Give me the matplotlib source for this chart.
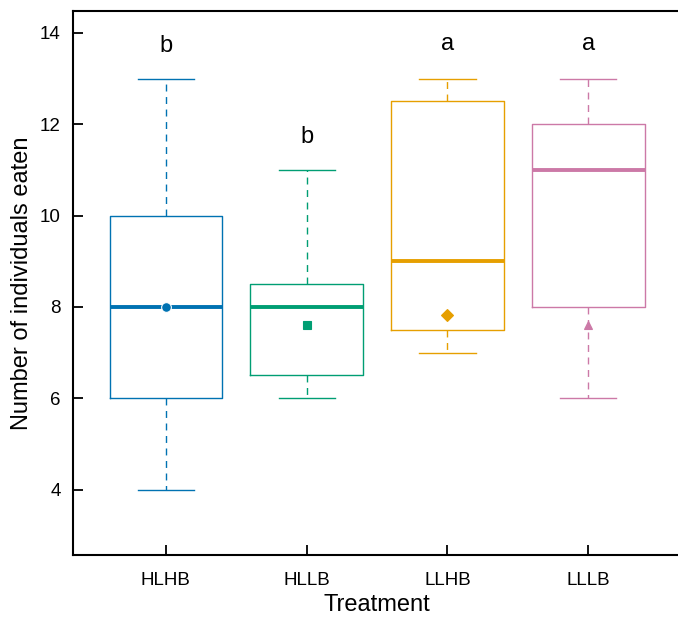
import matplotlib
matplotlib.use("Agg")
import matplotlib.pyplot as plt

plt.rcParams['font.family'] = ['Liberation Sans', 'DejaVu Sans']

treatments = ["HLHB", "HLLB", "LLHB", "LLLB"]
whisker_low = [4, 6, 7, 6]
q1 = [6, 6.5, 7.5, 8]
medians = [8, 8, 9, 11]
q3 = [10, 8.5, 12.5, 12]
whisker_high = [13, 11, 13, 13]
means = [8.0, 7.6, 7.83, 7.6]
letters = ["b", "b", "a", "a"]
colors = ["#0072B2", "#009E73", "#E69F00", "#CC79A7"]
markers = ["o", "s", "D", "^"]

fig = plt.figure(figsize=(6.78, 6.17), dpi=100)
ax = fig.add_axes([0.1077, 0.1005, 0.897, 0.8817])

for i, t in enumerate(treatments):
    stats = [dict(med=medians[i], q1=q1[i], q3=q3[i], whislo=whisker_low[i],
                  whishi=whisker_high[i], mean=means[i], fliers=[], label=t)]
    c = colors[i]
    ax.bxp(stats, positions=[i + 1], widths=0.8, showmeans=False, showfliers=False,
           boxprops=dict(color=c, linewidth=1.0),
           medianprops=dict(color=c, linewidth=2.8, solid_capstyle='butt'),
           whiskerprops=dict(color=c, linewidth=1.0, linestyle=(0, (5, 4))),
           capprops=dict(color=c, linewidth=1.0),
           capwidths=0.4)
    ax.plot([i + 1], [means[i]], marker=markers[i], color=c,
            markersize=7 if markers[i] == 'o' else 6,
            markeredgecolor='white' if markers[i] == 'o' else c,
            markeredgewidth=0.8, zorder=5)

letter_y = [13.72, 11.72, 13.75, 13.75]
for i, l in enumerate(letters):
    ax.text(i + 1, letter_y[i], l, ha='center', va='center', fontsize=17)

ax.set_xlim(0.34, 4.66)
ax.set_ylim(2.57, 14.48)
ax.set_xticks([1, 2, 3, 4])
ax.set_xticklabels(treatments)
ax.set_yticks([4, 6, 8, 10, 12, 14])
ax.tick_params(axis='y', direction='in', length=7, width=1.3, labelsize=13.5, pad=9)
ax.tick_params(axis='x', direction='in', length=7, width=1.3, labelsize=13.5, pad=12)
for s in ax.spines.values():
    s.set_linewidth(1.5)
ax.set_xlabel("Treatment", fontsize=17, labelpad=4)
ax.set_ylabel("Number of individuals eaten", fontsize=17, labelpad=5)

fig.savefig("out.png", dpi=100)
